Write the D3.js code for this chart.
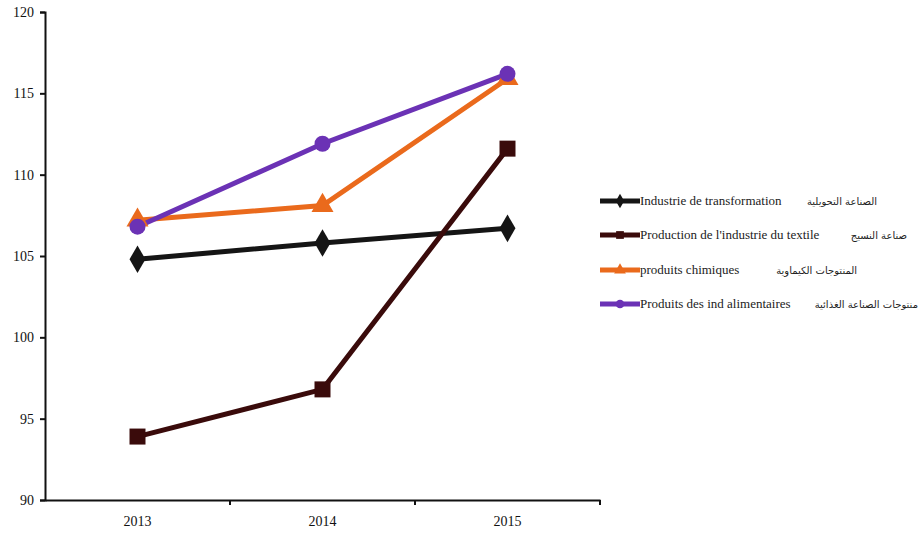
<!DOCTYPE html>
<html><head><meta charset="utf-8">
<script src="https://cdn.jsdelivr.net/npm/d3@7"></script>
<style>body{margin:0;background:#fff}svg{display:block}
.serif{font-family:"Liberation Serif","DejaVu Serif",serif}</style>
</head><body>
<svg id="c" width="924" height="533"></svg>
<script>
const years = ["2013", "2014", "2015"];
const yTicks = [90, 95, 100, 105, 110, 115, 120];
const seriesNames = ["Industrie de transformation", "Production de l'industrie du textile", "produits chimiques", "Produits des ind alimentaires"];
const seriesArabic = ["الصناعة التحويلية", "صناعة النسيج", "المنتوجات الكيماوية", "منتوجات الصناعة الغذائية"];
const transformation = [104.8, 105.8, 106.7];
const textile = [93.9, 96.8, 111.6];
const chimiques = [107.2, 108.1, 115.9];
const alimentaires = [106.8, 111.9, 116.2];
const colors = ["#151515", "#3a0b0b", "#ea6a1c", "#6b32b5"];
const symbols = [d3.symbolDiamond, d3.symbolSquare, d3.symbolTriangle, d3.symbolCircle];
const allSeries = [transformation, textile, chimiques, alimentaires];

const svg = d3.select("#c");
const x = d3.scaleBand().domain(years).range([45, 600]);
const y = d3.scaleLinear().domain([90, 120]).range([500, 12]);

const yAxis = svg.append("g").attr("transform", "translate(45,0)")
  .call(d3.axisLeft(y).tickValues(yTicks).tickSize(5).tickPadding(6));
const xAxis = svg.append("g").attr("transform", "translate(0,500)")
  .call(d3.axisBottom(x).tickSize(0).tickPadding(16));
[yAxis, xAxis].forEach(a => {
  a.attr("font-family", null);
  a.select(".domain").attr("stroke", "#111").attr("stroke-width", 2);
  a.selectAll(".tick line").attr("stroke", "#111").attr("stroke-width", 2);
  a.selectAll("text").attr("class", "serif").style("font-size", "14px").attr("fill", "#111");
});
// category boundary ticks on the x axis
svg.append("g").selectAll("line").data(years)
  .join("line")
  .attr("x1", d => x(d) + x.bandwidth())
  .attr("x2", d => x(d) + x.bandwidth())
  .attr("y1", 500).attr("y2", 505)
  .attr("stroke", "#111").attr("stroke-width", 2);

const line = d3.line().x((d, i) => x(years[i]) + x.bandwidth() / 2).y(d => y(d));
const sizes = [220, 256, 210, 200];

allSeries.forEach((s, k) => {
  svg.append("path").datum(s).attr("d", line)
    .attr("fill", "none").attr("stroke", colors[k]).attr("stroke-width", 5);
});
allSeries.forEach((s, k) => {
  svg.append("g").selectAll("path").data(s).join("path")
    .attr("transform", (d, i) => `translate(${x(years[i]) + x.bandwidth() / 2},${y(d)})`)
    .attr("d", d3.symbol().type(symbols[k]).size(sizes[k]))
    .attr("fill", colors[k]);
});

// legend
const legY = [201, 235, 270, 304];
const arX = [877, 907, 857, 918];
const leg = svg.append("g");
seriesNames.forEach((n, k) => {
  leg.append("line").attr("x1", 600).attr("x2", 640).attr("y1", legY[k]).attr("y2", legY[k])
    .attr("stroke", colors[k]).attr("stroke-width", 5);
  leg.append("path").attr("transform", `translate(620,${legY[k]})`)
    .attr("d", d3.symbol().type(symbols[k]).size(60)).attr("fill", colors[k]);
  leg.append("text").attr("class", "serif").attr("x", 640).attr("y", legY[k] + 4).text(n)
    .style("font-size", "13px").attr("fill", "#222");
  leg.append("text").attr("x", arX[k]).attr("y", legY[k] + 4).text(seriesArabic[k])
    .attr("text-anchor", "end")
    .style("font-family", "'DejaVu Sans', sans-serif").style("font-size", "10px").attr("fill", "#222");
});
</script>
</body></html>
